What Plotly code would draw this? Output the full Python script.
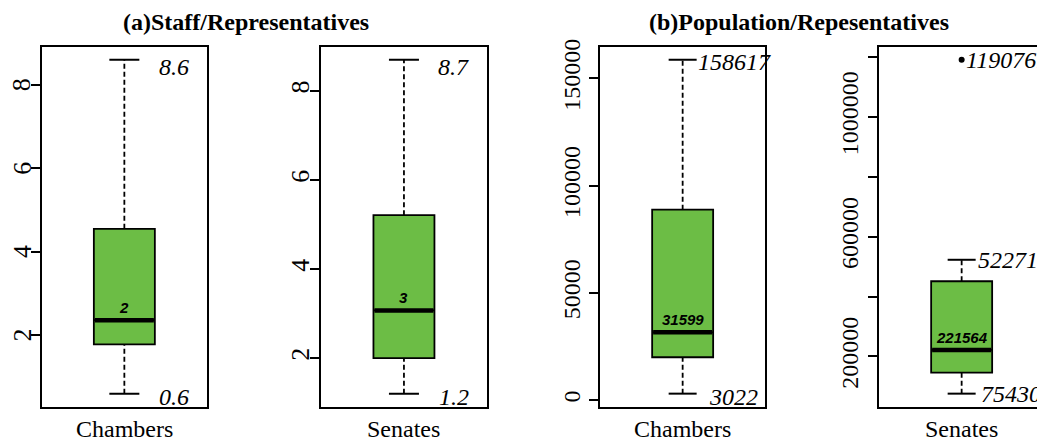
import plotly.graph_objects as go

# ---------------- data ----------------
groups = ["Chambers", "Senates", "Chambers", "Senates"]
lower = [0.6, 1.2, 3022, 75430]
q1 = [1.78, 2.0, 20000, 146000]
median = [2.36, 3.07, 31599, 221564]
q3 = [4.55, 5.21, 88800, 451000]
upper = [8.6, 8.7, 158617, 522715]
outliers = [[], [], [], [1190761]]

median_labels = ["2", "3", "31599", "221564"]
upper_labels = ["8.6", "8.7", "158617", "522715"]
lower_labels = ["0.6", "1.2", "3022", "75430"]
outlier_labels = [[], [], [], ["1190761"]]

titles = ["(a)Staff/Representatives", "(b)Population/Repesentatives"]

tick_values = [
    [2, 4, 6, 8],
    [2, 4, 6, 8],
    [0, 50000, 100000, 150000],
    [200000, 400000, 600000, 800000, 1000000, 1200000],
]
tick_labels = [
    ["2", "4", "6", "8"],
    ["2", "4", "6", "8"],
    ["0", "50000", "100000", "150000"],
    ["200000", "", "600000", "", "1000000", ""],
]

# ---------------- layout / style ----------------
W, H = 1037, 441


def paper_y(px):
    return 1 - px / H


panel_left_px = [41.7, 321.3, 600.0, 879.0]
panel_w_px = 165.3
top_px, bottom_px = 46.5, 407.0
box_w_px = 61
cap_px = [30, 30, 28, 28]
LINE_EW = 1.4  # plotly draws line-ew markers 1.4x the marker size
green = "#6CBD45"
serif = "Liberation Serif"
sans = "Liberation Sans"
label_mode = ["inside", "inside", "right", "right"]
upper_xshift = [0, 0, 13, 14]
lower_xshift = [0, 0, 24, 17]
upper_yshift = [-7, -7, -2, 0]
lower_yshift = [-3, -3, -3, 0]
ytick_size = [26, 26, 24, 24]
ytick_standoff = [0, -9, -1, 0]
# panel 1 tick labels drawn as rotated annotations (centre x in px)
ytick_as_annot = [True, False, False, False]
ytick_annot_x_px = [22.3, None, None, None]

fig = go.Figure()
layout = dict(
    width=W, height=H, margin=dict(l=0, r=0, t=0, b=0, autoexpand=False),
    paper_bgcolor="white", plot_bgcolor="white", showlegend=False,
)
annotations = []

ydom = [paper_y(bottom_px), paper_y(top_px)]

for i in range(4):
    n = "" if i == 0 else str(i + 1)
    xa, ya = "x" + n, "y" + n
    cat = groups[i]
    left = panel_left_px[i]
    right = min(left + panel_w_px, W)
    xdom = [left / W, right / W]
    xr = [-0.5, -0.5 + (right - left) / panel_w_px]
    box_w = box_w_px / panel_w_px

    vals = [lower[i], upper[i]] + outliers[i]
    lo, hi = min(vals), max(vals)
    pad = 0.04 * (hi - lo)
    yr = [lo - pad, hi + pad]

    # whiskers (dashed)
    for y0, y1 in [(q3[i], upper[i]), (lower[i], q1[i])]:
        fig.add_trace(go.Scatter(
            x=[cat, cat], y=[y0, y1], mode="lines", xaxis=xa, yaxis=ya,
            line=dict(color="black", width=1.8, dash="5px,3px"),
            hoverinfo="skip"))
    # caps
    fig.add_trace(go.Scatter(
        x=[cat, cat], y=[lower[i], upper[i]], mode="markers", xaxis=xa, yaxis=ya,
        marker=dict(symbol="line-ew", size=cap_px[i] / LINE_EW,
                    line=dict(color="black", width=2)),
        hoverinfo="skip"))
    # box
    fig.add_trace(go.Box(
        x=[cat], q1=[q1[i]], median=[median[i]], q3=[q3[i]],
        lowerfence=[q1[i]], upperfence=[q3[i]], xaxis=xa, yaxis=ya,
        width=box_w, fillcolor=green, whiskerwidth=0,
        line=dict(color="black", width=1.8), boxpoints=False,
        hoverinfo="skip"))
    # thick median
    fig.add_trace(go.Scatter(
        x=[cat], y=[median[i]], mode="markers", xaxis=xa, yaxis=ya,
        marker=dict(symbol="line-ew", size=(box_w_px - 2) / LINE_EW,
                    line=dict(color="black", width=4.5)),
        hoverinfo="skip"))
    # outliers
    if outliers[i]:
        fig.add_trace(go.Scatter(
            x=[cat] * len(outliers[i]), y=outliers[i], mode="markers",
            xaxis=xa, yaxis=ya,
            marker=dict(symbol="circle", size=6, color="black"),
            hoverinfo="skip"))
        for v, t in zip(outliers[i], outlier_labels[i]):
            annotations.append(dict(
                x=cat, y=v, xref=xa, yref=ya, text=t, showarrow=False,
                xanchor="left", yanchor="middle", xshift=2,
                font=dict(family=serif, size=24, color="black", style="italic")))

    # median label
    annotations.append(dict(
        x=cat, y=median[i], xref=xa, yref=ya, text=median_labels[i],
        showarrow=False, xanchor="center", yanchor="bottom", yshift=2,
        font=dict(family=sans, size=15, color="black", weight="bold",
                  style="italic")))

    # whisker value labels
    for v, t, xs, ys in [(upper[i], upper_labels[i], upper_xshift[i], upper_yshift[i]),
                         (lower[i], lower_labels[i], lower_xshift[i], lower_yshift[i])]:
        if label_mode[i] == "inside":
            annotations.append(dict(
                x=0.905, y=v, xref=xa + " domain", yref=ya, text=t,
                showarrow=False, xanchor="right", yanchor="middle", yshift=ys,
                font=dict(family=serif, size=24, color="black",
                          style="italic")))
        else:
            annotations.append(dict(
                x=cat, y=v, xref=xa, yref=ya, text=t, showarrow=False,
                xanchor="left", yanchor="middle", xshift=xs, yshift=ys,
                font=dict(family=serif, size=24, color="black",
                          style="italic")))

    # category label under the panel
    annotations.append(dict(
        x=cat, y=0, xref=xa, yref="paper", text=cat, showarrow=False,
        xanchor="center", yanchor="bottom", borderpad=0, yshift=-2,
        font=dict(family=serif, size=24, color="black")))

    # y tick labels as rotated annotations where needed
    if ytick_as_annot[i]:
        for v, t in zip(tick_values[i], tick_labels[i]):
            if t:
                annotations.append(dict(
                    x=ytick_annot_x_px[i] / W, y=v, xref="paper", yref=ya,
                    text=t, showarrow=False, textangle=-90,
                    xanchor="center", yanchor="middle",
                    font=dict(family=serif, size=ytick_size[i], color="black")))

    layout["xaxis" + n] = dict(
        domain=xdom, anchor=ya, range=xr, type="category",
        categoryorder="array", categoryarray=[cat],
        showline=True, linecolor="black", linewidth=2, mirror=True,
        showgrid=False, zeroline=False, ticks="", showticklabels=False,
        automargin=False, fixedrange=True)
    layout["yaxis" + n] = dict(
        domain=ydom, anchor=xa, range=yr,
        tickvals=tick_values[i], ticktext=tick_labels[i],
        showticklabels=not ytick_as_annot[i],
        tickangle=-90, ticks="outside", ticklen=9, tickwidth=2,
        tickcolor="black", ticklabelstandoff=ytick_standoff[i],
        showline=True, linecolor="black", linewidth=2,
        mirror=(i != 3), showgrid=False, zeroline=False, fixedrange=True,
        automargin=False,
        tickfont=dict(family=serif, size=ytick_size[i], color="black"))

# panel titles
title_x_px = [246, 799]
for t, xp in zip(titles, title_x_px):
    annotations.append(dict(
        x=xp / W, y=paper_y(22), xref="paper", yref="paper", text=t,
        showarrow=False, xanchor="center", yanchor="middle",
        font=dict(family=serif, size=24, color="black", weight="bold")))

layout["annotations"] = annotations
fig.update_layout(**layout)
fig.write_html("out.html")
